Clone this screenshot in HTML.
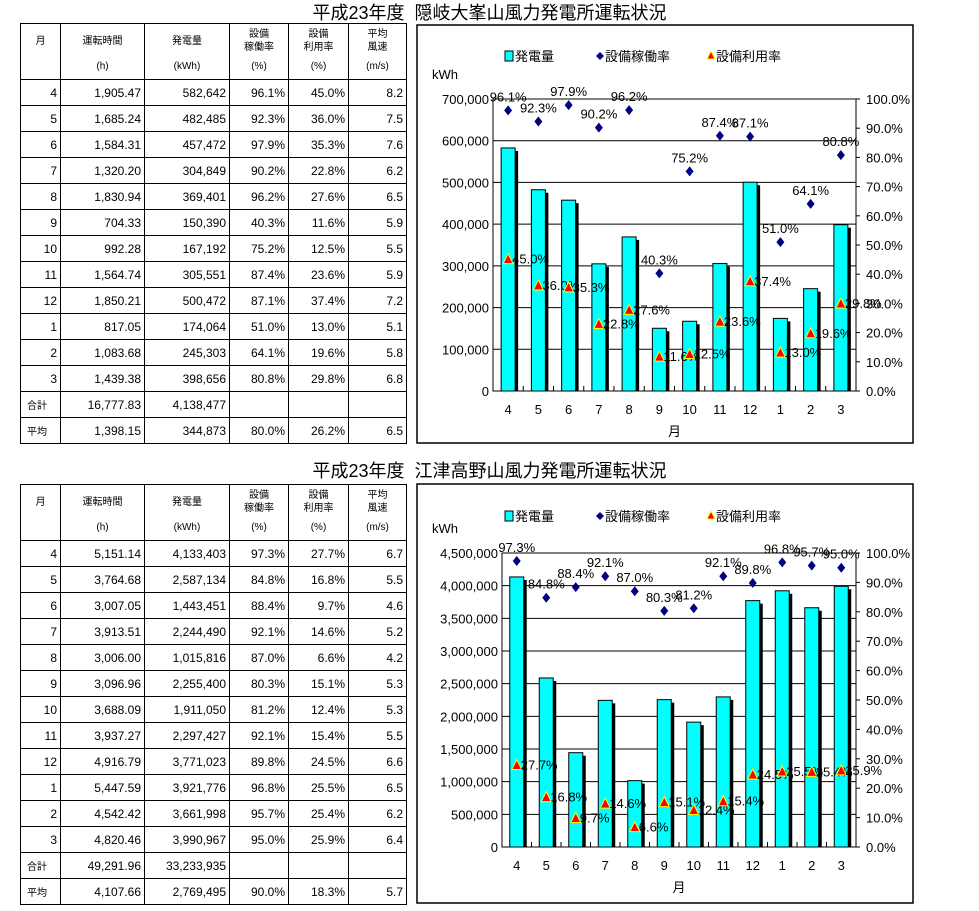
<!DOCTYPE html>
<html><head><meta charset="utf-8">
<style>
body{margin:0;background:#fff;width:979px;height:911px;overflow:hidden;position:relative;font-family:"Liberation Sans","Noto Sans CJK JP",sans-serif;}
.title{position:absolute;left:0;width:979px;text-align:center;font-size:18px;line-height:22px;}
table{position:absolute;left:20px;border-collapse:collapse;font-size:12px;table-layout:fixed;width:386px;}
td{border:1px solid #000;padding:0 3px;text-align:right;height:25px;overflow:hidden;white-space:nowrap;}
td.h{text-align:center;font-size:10px;vertical-align:top;padding:0;}
td.lab{text-align:left;font-size:10px;padding-left:6px;}
svg{position:absolute;left:0;top:0;}
</style></head><body>
<div class="title" style="top:2px">平成23年度&nbsp;&nbsp;隠岐大峯山風力発電所運転状況</div>
<div class="title" style="top:460px">平成23年度&nbsp;&nbsp;江津高野山風力発電所運転状況</div>
<table id="t1" style="top:23px"></table>
<table id="t2" style="top:484px"></table>
<svg id="c" width="979" height="911"></svg>
<script>
const months=["4","5","6","7","8","9","10","11","12","1","2","3"];
const rows1=[["1,905.47","582,642","96.1%","45.0%","8.2"],["1,685.24","482,485","92.3%","36.0%","7.5"],["1,584.31","457,472","97.9%","35.3%","7.6"],["1,320.20","304,849","90.2%","22.8%","6.2"],["1,830.94","369,401","96.2%","27.6%","6.5"],["704.33","150,390","40.3%","11.6%","5.9"],["992.28","167,192","75.2%","12.5%","5.5"],["1,564.74","305,551","87.4%","23.6%","5.9"],["1,850.21","500,472","87.1%","37.4%","7.2"],["817.05","174,064","51.0%","13.0%","5.1"],["1,083.68","245,303","64.1%","19.6%","5.8"],["1,439.38","398,656","80.8%","29.8%","6.8"]];
const sum1=["16,777.83","4,138,477","","",""];
const avg1=["1,398.15","344,873","80.0%","26.2%","6.5"];
const rows2=[["5,151.14","4,133,403","97.3%","27.7%","6.7"],["3,764.68","2,587,134","84.8%","16.8%","5.5"],["3,007.05","1,443,451","88.4%","9.7%","4.6"],["3,913.51","2,244,490","92.1%","14.6%","5.2"],["3,006.00","1,015,816","87.0%","6.6%","4.2"],["3,096.96","2,255,400","80.3%","15.1%","5.3"],["3,688.09","1,911,050","81.2%","12.4%","5.3"],["3,937.27","2,297,427","92.1%","15.4%","5.5"],["4,916.79","3,771,023","89.8%","24.5%","6.6"],["5,447.59","3,921,776","96.8%","25.5%","6.5"],["4,542.42","3,661,998","95.7%","25.4%","6.2"],["4,820.46","3,990,967","95.0%","25.9%","6.4"]];
const sum2=["49,291.96","33,233,935","","",""];
const avg2=["4,107.66","2,769,495","90.0%","18.3%","5.7"];

const gen1=[582642,482485,457472,304849,369401,150390,167192,305551,500472,174064,245303,398656];
const avail1=[96.1,92.3,97.9,90.2,96.2,40.3,75.2,87.4,87.1,51.0,64.1,80.8];
const util1=[45.0,36.0,35.3,22.8,27.6,11.6,12.5,23.6,37.4,13.0,19.6,29.8];
const leftTicks1=["0","100,000","200,000","300,000","400,000","500,000","600,000","700,000"];
const gen2=[4133403,2587134,1443451,2244490,1015816,2255400,1911050,2297427,3771023,3921776,3661998,3990967];
const avail2=[97.3,84.8,88.4,92.1,87.0,80.3,81.2,92.1,89.8,96.8,95.7,95.0];
const util2=[27.7,16.8,9.7,14.6,6.6,15.1,12.4,15.4,24.5,25.5,25.4,25.9];
const leftTicks2=["0","500,000","1,000,000","1,500,000","2,000,000","2,500,000","3,000,000","3,500,000","4,000,000","4,500,000"];
const rightTicks=["0.0%","10.0%","20.0%","30.0%","40.0%","50.0%","60.0%","70.0%","80.0%","90.0%","100.0%"];

function buildTable(id,rows,sum,avg){
  const t=document.getElementById(id);
  const widths=[40,84,85,59,60,58];
  let h='<colgroup>'+widths.map(w=>`<col style="width:${w}px">`).join('')+'</colgroup><tr style="height:56px">';
  const heads=[["月",""],["運転時間","(h)"],["発電量","(kWh)"],["設備<br>稼働率","(%)"],["設備<br>利用率","(%)"],["平均<br>風速","(m/s)"]];
  heads.forEach((x)=>{h+=`<td class="h" style="height:54px"><div style="height:34px;display:flex;align-items:center;justify-content:center;line-height:13px">${x[0]}</div><div style="line-height:18px">${x[1]}</div></td>`;});
  h+='</tr>';
  rows.forEach((r,i)=>{h+=`<tr><td>${months[i]}</td>`+r.map(v=>`<td>${v}</td>`).join('')+'</tr>';});
  h+='<tr><td class="lab">合計</td>'+sum.map(v=>`<td>${v}</td>`).join('')+'</tr>';
  h+='<tr><td class="lab">平均</td>'+avg.map(v=>`<td>${v}</td>`).join('')+'</tr>';
  t.innerHTML=h;
  t.querySelectorAll('tr').forEach((tr,i)=>{});
}
buildTable('t1',rows1,sum1,avg1);
buildTable('t2',rows2,sum2,avg2);

const NS='http://www.w3.org/2000/svg';
const svg=document.getElementById('c');
function el(tag,attrs,parent,text){const e=document.createElementNS(NS,tag);for(const k in attrs)e.setAttribute(k,attrs[k]);if(text!==undefined)e.textContent=text;(parent||svg).appendChild(e);return e;}

function chart(o){
  const g=el('g',{});
  
  
  el('rect',{x:o.bx,y:o.by,width:o.bw,height:o.bh,fill:'#fff',stroke:'#000','stroke-width':1.5},g);
  const L=o.px0,R=o.px1,T=o.py0,B=o.py1;
  const yL=v=>B-(v/o.max)*(B-T);
  const yR=v=>B-(v/100)*(B-T);
  const cw=(R-L)/months.length;
  const xc=i=>L+cw*(i+0.5);
  o.ticks.forEach((t,i)=>{
    const v=i*o.step,y=yL(v);
    const gl=el('line',{x1:L,x2:R,y1:y,y2:y,stroke:'#000','stroke-width':1},g);
    
    const tl=el('text',{x:L-4,y:y+5,'text-anchor':'end','font-size':13},g,t);
    
  });
  rightTicks.forEach((t,i)=>{
    const y=yR(i*10);
    el('line',{x1:R,x2:R+4,y1:y,y2:y,stroke:'#000'},g);
    const tl=el('text',{x:R+10,y:y+5,'font-size':13},g,t);
    
  });
  el('rect',{x:L,y:T,width:R-L,height:B-T,fill:'none',stroke:'#000','stroke-width':1},g);
  for(let i=1;i<months.length;i++){el('line',{x1:L+cw*i,x2:L+cw*i,y1:B,y2:B-5,stroke:'#000'},g);}
  const kw=el('text',{x:o.bx+15,y:T-20,'font-size':13},g,'kWh');
  
  o.gen.forEach((v,i)=>{
    const x=xc(i)-7,y=yL(v);
    el('rect',{x:x+3,y:y+3,width:14,height:B-y-3,fill:'#000'},g);
    const b=el('rect',{x:x,y:y,width:14,height:B-y,fill:'#00ffff',stroke:'#000','stroke-width':1},g);
    
    const ml=el('text',{x:xc(i),y:B+23,'text-anchor':'middle','font-size':13},g,months[i]);
    
  });
  o.avail.forEach((v,i)=>{
    const x=xc(i),y=yR(v);
    const d=el('path',{d:`M${x} ${y-5}L${x+4} ${y}L${x} ${y+5}L${x-4} ${y}Z`,fill:'#000080'},g);
    
    const t=el('text',{x:x,y:y-9,'text-anchor':'middle','font-size':13},g,v.toFixed(1)+'%');
    
  });
  o.util.forEach((v,i)=>{
    const x=xc(i),y=yR(v);
    const d=el('path',{d:`M${x} ${y-6}L${x+5} ${y+4}L${x-5} ${y+4}Z`,fill:'#ff0000',stroke:'#ffff00','stroke-width':1},g);
    
    const t=el('text',{x:x+4,y:y+4,'font-size':13},g,v.toFixed(1)+'%');
    
  });
  const xt=el('text',{x:(L+R)/2,y:B+45,'text-anchor':'middle','font-size':13},g,'月');
  
  const ly=o.ly;
  const lg=el('g',{},g);
  el('rect',{x:505,y:ly-9,width:8,height:10,fill:'#00ffff',stroke:'#000'},lg);
  el('text',{x:515,y:ly+1,'font-size':13},lg,'発電量');
  el('path',{d:`M600 ${ly-8}L604 ${ly-4}L600 ${ly}L596 ${ly-4}Z`,fill:'#000080'},lg);
  el('text',{x:605,y:ly+1,'font-size':13},lg,'設備稼働率');
  el('path',{d:`M711 ${ly-9}L715 ${ly-1}L707 ${ly-1}Z`,fill:'#ff0000',stroke:'#ffff00'},lg);
  el('text',{x:716,y:ly+1,'font-size':13},lg,'設備利用率');
}
chart({name:'chart-oki',bx:417,by:25,bw:496,bh:418,px0:493,px1:856,py0:99,py1:391,max:700000,step:100000,ticks:leftTicks1,gen:gen1,avail:avail1,util:util1,ly:60});
chart({name:'chart-gotsu',bx:417,by:484,bw:496,bh:419,px0:502,px1:856,py0:553,py1:847,max:4500000,step:500000,ticks:leftTicks2,gen:gen2,avail:avail2,util:util2,ly:520});
</script>
</body></html>
